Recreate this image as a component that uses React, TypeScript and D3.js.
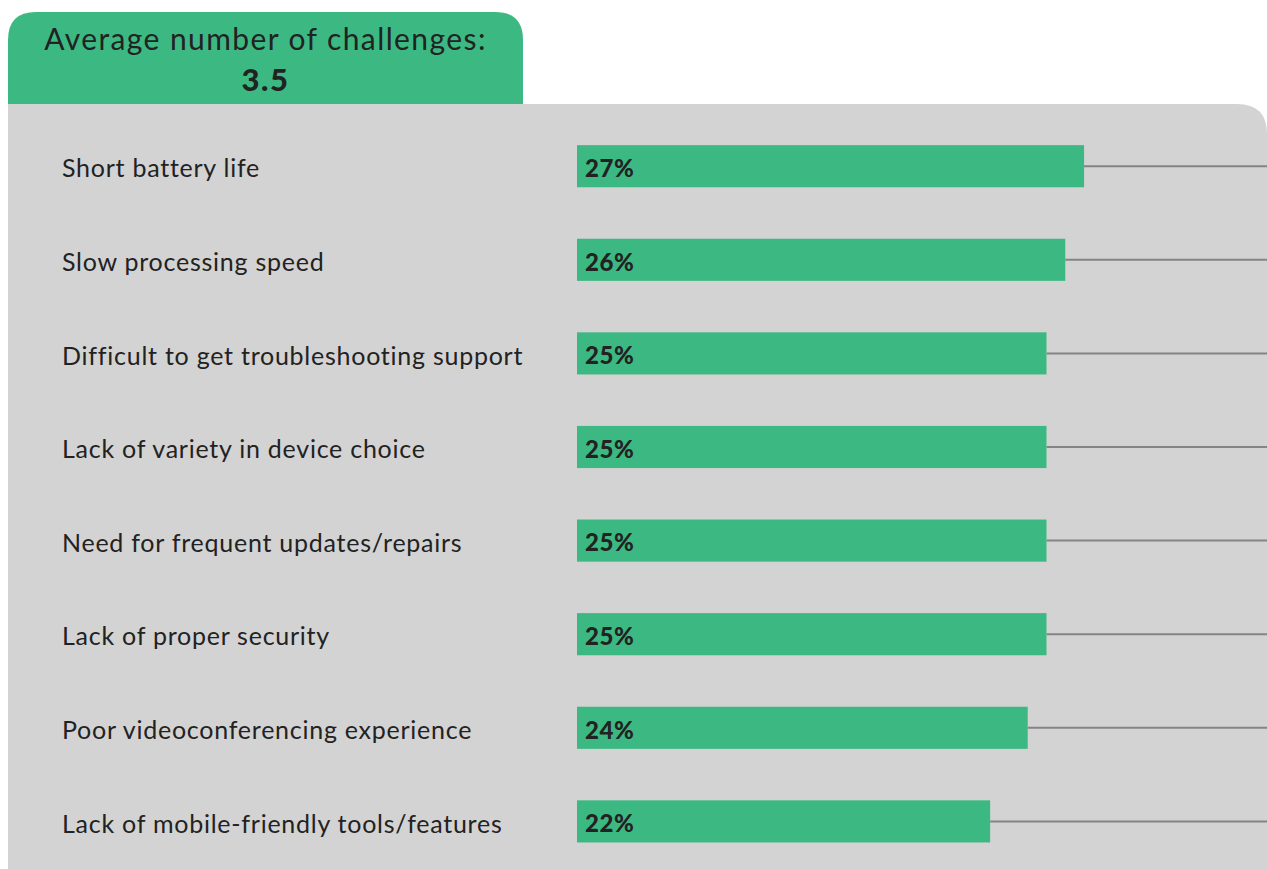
import * as d3 from 'd3';
import { useEffect, useRef } from 'react';

const categories = [
  'Short battery life',
  'Slow processing speed',
  'Difficult to get troubleshooting support',
  'Lack of variety in device choice',
  'Need for frequent updates/repairs',
  'Lack of proper security',
  'Poor videoconferencing experience',
  'Lack of mobile-friendly tools/features',
];
const values = [27, 26, 25, 25, 25, 25, 24, 22];
const averageLabel = 'Average number of challenges:';
const averageValue = '3.5';

const W = 1267;
const H = 869;
const GREEN = '#3cb982';
const PANEL = '#d3d3d3';
const INK = '#222222';
const FONT = 'Lato, "Open Sans", sans-serif';

export default function App() {
  const ref = useRef<SVGSVGElement>(null);

  useEffect(() => {
    const svg = d3.select(ref.current);
    svg.selectAll('*').remove();

    // green tab with the average
    const tab = { x0: 8, x1: 523, y0: 12, y1: 104, r: 28 };
    svg
      .append('path')
      .attr(
        'd',
        `M${tab.x0},${tab.y1} V${tab.y0 + tab.r} Q${tab.x0},${tab.y0} ${tab.x0 + tab.r},${tab.y0} ` +
          `H${tab.x1 - tab.r} Q${tab.x1},${tab.y0} ${tab.x1},${tab.y0 + tab.r} V${tab.y1} Z`
      )
      .style('fill', GREEN);

    svg
      .append('text')
      .attr('x', (tab.x0 + tab.x1) / 2)
      .attr('y', 50)
      .style('text-anchor', 'middle')
      .style('font-family', FONT)
      .style('font-size', '30px')
      .style('letter-spacing', '1.4px')
      .style('fill', INK)
      .text(averageLabel);

    svg
      .append('text')
      .attr('x', (tab.x0 + tab.x1) / 2)
      .attr('y', 91)
      .style('text-anchor', 'middle')
      .style('font-family', FONT)
      .style('font-size', '31px')
      .style('font-weight', 900)
      .style('letter-spacing', '1.5px')
      .style('fill', INK)
      .text(averageValue);

    // gray panel
    const pr = 30;
    svg
      .append('path')
      .attr(
        'd',
        `M8,104 H${W - pr} Q${W},104 ${W},${104 + pr} V${H} H8 Z`
      )
      .style('fill', PANEL);

    const x = d3.scaleLinear().domain([0, 100]).range([577, 577 + 1878]);
    const step = 93.6;
    const top = 119.4;
    const y = d3
      .scaleBand<string>()
      .domain(categories)
      .range([top, top + step * categories.length])
      .paddingInner(0.55)
      .paddingOuter(0.275);

    const rows = svg
      .selectAll('.row')
      .data(categories)
      .enter()
      .append('g')
      .attr('class', 'row');

    rows
      .append('line')
      .attr('x1', (d, i) => x(values[i]))
      .attr('x2', W)
      .attr('y1', (d) => y(d)! + y.bandwidth() / 2)
      .attr('y2', (d) => y(d)! + y.bandwidth() / 2)
      .style('stroke', '#848484')
      .style('stroke-width', 2);

    rows
      .append('rect')
      .attr('x', x(0))
      .attr('y', (d) => y(d)!)
      .attr('width', (d, i) => x(values[i]) - x(0))
      .attr('height', y.bandwidth())
      .style('fill', GREEN);

    rows
      .append('text')
      .attr('x', 62)
      .attr('y', (d) => y(d)! + y.bandwidth() / 2)
      .attr('dy', '0.45em')
      .style('font-family', FONT)
      .style('font-size', '25px')
      .style('letter-spacing', '0.75px')
      .style('fill', INK)
      .text((d) => d);

    rows
      .append('text')
      .attr('x', x(0) + 8)
      .attr('y', (d) => y(d)! + y.bandwidth() / 2)
      .attr('dy', '0.45em')
      .style('font-family', FONT)
      .style('font-size', '24px')
      .style('font-weight', 900)
      .style('letter-spacing', '0.6px')
      .style('fill', INK)
      .text((d, i) => `${values[i]}%`);
  }, []);

  return (
    <svg
      ref={ref}
      width={W}
      height={H}
      style={{ position: 'absolute', left: 0, top: 0, background: '#fff' }}
    />
  );
}
